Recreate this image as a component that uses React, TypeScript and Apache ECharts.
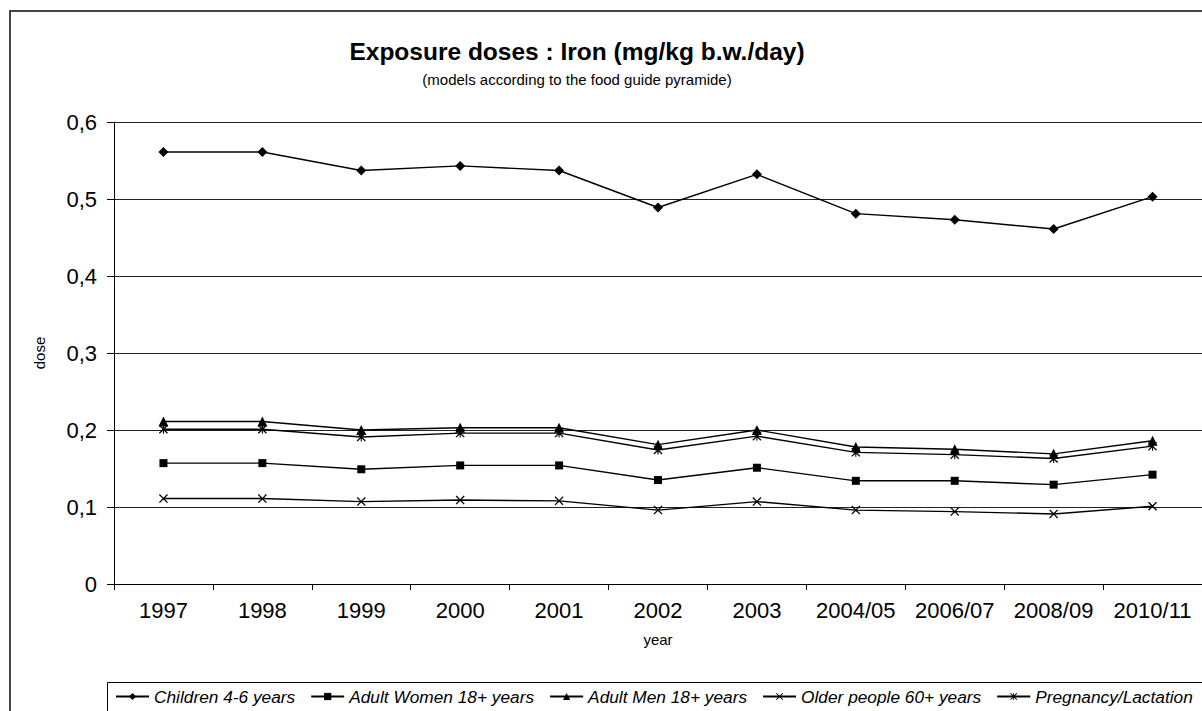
import React, { useEffect, useRef } from "react";
import * as echarts from "echarts";

const categories = ["1997", "1998", "1999", "2000", "2001", "2002", "2003", "2004/05", "2006/07", "2008/09", "2010/11"];
const children = [0.561, 0.561, 0.537, 0.543, 0.537, 0.489, 0.532, 0.481, 0.473, 0.461, 0.503];
const women = [0.157, 0.157, 0.149, 0.154, 0.154, 0.135, 0.151, 0.134, 0.134, 0.129, 0.142];
const men = [0.211, 0.211, 0.2, 0.203, 0.203, 0.181, 0.2, 0.178, 0.175, 0.169, 0.186];
const older = [0.111, 0.111, 0.107, 0.109, 0.108, 0.096, 0.107, 0.096, 0.094, 0.091, 0.101];
const pregnancy = [0.201, 0.201, 0.191, 0.196, 0.196, 0.174, 0.192, 0.171, 0.168, 0.163, 0.179];

const seriesNames = ["Children 4-6 years", "Adult Women 18+ years", "Adult Men 18+ years", "Older people 60+ years", "Pregnancy/Lactation"];

const FONT = "'Liberation Sans', Arial, sans-serif";
const X_SYMBOL = "path://M0,1 L1,0 L5,4 L9,0 L10,1 L6,5 L10,9 L9,10 L5,6 L1,10 L0,9 L4,5 Z";
const AST_SYMBOL = "path://M0,1 L1,0 L5,4 L9,0 L10,1 L6,5 L10,9 L9,10 L5,6 L1,10 L0,9 L4,5 Z M4.4,0 L5.6,0 L5.6,10 L4.4,10 Z";

export default function App() {
  const ref = useRef<HTMLDivElement>(null);
  useEffect(() => {
    if (!ref.current) return;
    const chart = echarts.init(ref.current, null, { renderer: "svg" });
    const mk = (name: string, data: number[], symbol: string, size: number) => ({
      name,
      type: "line",
      data,
      symbol,
      symbolSize: size,
      showSymbol: true,
      lineStyle: { color: "#000", width: 1.4 },
      itemStyle: { color: "#000" },
      emphasis: { disabled: true },
    });
    chart.setOption({
      animation: false,
      backgroundColor: "#fff",
      textStyle: { fontFamily: FONT },
      grid: { left: 114, right: 0, top: 122, bottom: 127, containLabel: false, outerBoundsMode: "none" },
      graphic: [
        {
          type: "rect",
          shape: { x: 10, y: 11, width: 1260, height: 760 },
          style: { fill: "none", stroke: "#444", lineWidth: 2 },
          silent: true,
        },
        {
          type: "rect",
          shape: { x: 107.5, y: 682.5, width: 1200, height: 60 },
          style: { fill: "none", stroke: "#000", lineWidth: 1 },
          silent: true,
        },
        {
          type: "text",
          x: 577,
          y: 51,
          style: {
            text: "Exposure doses : Iron (mg/kg b.w./day)",
            font: `bold 24.5px ${FONT}`,
            fill: "#000",
            align: "center",
            verticalAlign: "middle",
          },
        },
        {
          type: "text",
          x: 577,
          y: 79,
          style: {
            text: "(models according to the food guide pyramide)",
            font: `15px ${FONT}`,
            fill: "#000",
            align: "center",
            verticalAlign: "middle",
          },
        },
      ],
      legend: {
        left: 115,
        top: 688,
        width: 1087,
        padding: 0,
        itemWidth: 33,
        itemHeight: 9,
        itemGap: 15,
        textStyle: { fontStyle: "italic", fontSize: 17.3, color: "#000", fontFamily: FONT },
        data: seriesNames,
      },
      xAxis: {
        type: "category",
        data: categories,
        boundaryGap: true,
        name: "year",
        nameLocation: "middle",
        nameGap: 48,
        nameTextStyle: { fontSize: 15, color: "#000", fontFamily: FONT },
        axisLine: { lineStyle: { color: "#000", width: 1 } },
        axisTick: { show: true, length: 6, alignWithLabel: false, lineStyle: { color: "#000" } },
        axisLabel: { fontSize: 22, color: "#000", margin: 15, fontFamily: FONT, interval: 0 },
        splitLine: { show: false },
      },
      yAxis: {
        type: "value",
        min: 0,
        max: 0.6,
        interval: 0.1,
        name: "dose",
        nameLocation: "middle",
        nameGap: 67,
        nameRotate: 90,
        nameTextStyle: { fontSize: 15, color: "#000", fontFamily: FONT },
        axisLine: { show: true, lineStyle: { color: "#000", width: 1 } },
        axisTick: { show: true, length: 7, lineStyle: { color: "#000" } },
        axisLabel: {
          fontSize: 22,
          color: "#000",
          margin: 17,
          fontFamily: FONT,
          formatter: (v: number) => (v === 0 ? "0" : v.toFixed(1).replace(".", ",")),
        },
        splitLine: { show: true, lineStyle: { color: "#222", width: 1 } },
      },
      series: [
        mk(seriesNames[0], children, "diamond", 10),
        mk(seriesNames[1], women, "rect", 8),
        mk(seriesNames[2], men, "triangle", 10),
        mk(seriesNames[3], older, X_SYMBOL, 9),
        mk(seriesNames[4], pregnancy, AST_SYMBOL, 9),
      ],
    });
    return () => chart.dispose();
  }, []);
  return (
    <div
      ref={ref}
      style={{ position: "absolute", left: 0, top: 0, width: 1202, height: 711, background: "#fff" }}
    />
  );
}
